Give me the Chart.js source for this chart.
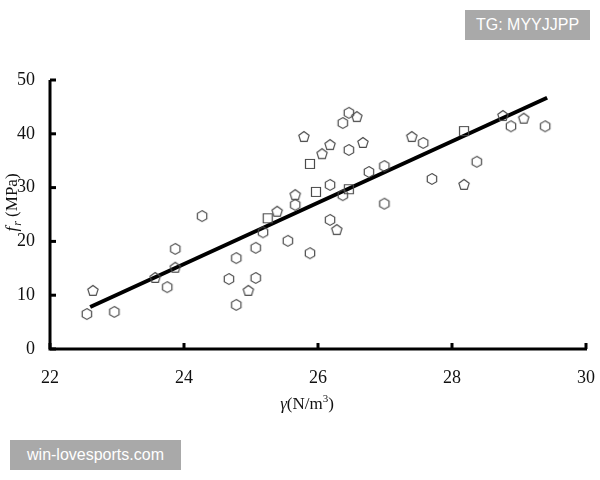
<!DOCTYPE html>
<html lang="en">
<head>
  <meta charset="UTF-8">
  <title>Strength vs unit weight</title>
  <script src="https://cdn.jsdelivr.net/npm/chart.js"></script>
  <style>
    body {
      margin: 0;
      background: #ffffff;
    }
    .wrap {
      position: relative;
      width: 600px;
      height: 480px;
    }
    .mark {
      position: absolute;
      background: #a9a9a9;
      color: #ffffff;
      font-family: 'Liberation Sans', sans-serif;
      font-size: 16px;
      display: flex;
      align-items: center;
      justify-content: center;
    }
  </style>
</head>
<body>

<div class="wrap">
  <canvas id="chart" width="600" height="480"></canvas>
  <div class="mark" style="left:465px; top:10px; width:125px; height:30px;">TG: MYYJJPP</div>
  <div class="mark" style="left:10px; top:440px; width:171px; height:30px;">win-lovesports.com</div>
</div>

<script>
  // gamma (N/m3) and f_r (MPa), grouped by marker shape
  const hexGamma = [22.55, 22.96, 23.75, 23.87, 24.27, 24.67, 24.78, 24.78, 25.07, 25.07, 25.18, 25.55, 25.66, 25.88,
                    26.18, 26.18, 26.37, 26.37, 26.46, 26.46, 26.76, 26.99, 26.99, 27.57, 27.70, 28.37, 28.88, 29.39];
  const hexStrength = [6.5, 6.9, 11.5, 18.6, 24.7, 13.0, 16.9, 8.2, 18.8, 13.2, 21.7, 20.1, 26.8, 17.8,
                       30.5, 24.0, 28.6, 42.0, 43.9, 37.0, 32.9, 34.0, 27.0, 38.3, 31.6, 34.8, 41.4, 41.4];
  const pentGamma = [22.64, 23.57, 23.87, 24.96, 25.39, 25.66, 25.79, 26.06, 26.18, 26.28, 26.58, 26.67, 27.40, 28.18, 28.76, 29.07];
  const pentStrength = [10.8, 13.2, 15.1, 10.8, 25.5, 28.6, 39.4, 36.2, 37.9, 22.1, 43.1, 38.3, 39.4, 30.5, 43.3, 42.8];
  const sqGamma = [25.25, 25.88, 25.97, 26.46, 28.18];
  const sqStrength = [24.3, 34.4, 29.2, 29.7, 40.5];

  // fitted line end points
  const fitGamma = [22.6, 29.42];
  const fitStrength = [7.8, 46.7];

  const xTicks = [22, 24, 26, 28, 30];
  const yTicks = [0, 10, 20, 30, 40, 50];

  const serif = "'Liberation Serif', 'Times New Roman', serif";

  function makeMarker(sides) {
    const c = document.createElement('canvas');
    c.width = 14;
    c.height = 14;
    const g = c.getContext('2d');
    g.strokeStyle = '#4a4a4a';
    g.lineWidth = 1.2;
    g.beginPath();
    if (sides === 4) {
      g.rect(2.5, 2.5, 9, 9);
    } else {
      for (let i = 0; i < sides; i++) {
        const a = -Math.PI / 2 + i * 2 * Math.PI / sides;
        const px = 7 + 5.4 * Math.cos(a);
        const py = 7 + 5.4 * Math.sin(a);
        if (i === 0) g.moveTo(px, py); else g.lineTo(px, py);
      }
      g.closePath();
    }
    g.stroke();
    return c;
  }

  function pairs(xs, ys) {
    return xs.map((x, i) => ({ x: x, y: ys[i] }));
  }

  // draws axis lines, inward ticks and the two axis titles
  const axesPlugin = {
    id: 'axes',
    afterDraw(chart) {
      const ctx = chart.ctx;
      const area = chart.chartArea;
      const xs = chart.scales.x;
      const ys = chart.scales.y;
      ctx.save();
      ctx.strokeStyle = '#000';
      ctx.lineWidth = 3;
      ctx.beginPath();
      ctx.moveTo(area.left, area.top);
      ctx.lineTo(area.left, area.bottom);
      ctx.lineTo(area.right + 1, area.bottom);
      ctx.stroke();
      xTicks.forEach(v => {
        const px = xs.getPixelForValue(v);
        ctx.beginPath();
        ctx.moveTo(px, area.bottom);
        ctx.lineTo(px, area.bottom - 6);
        ctx.stroke();
      });
      yTicks.forEach(v => {
        const py = ys.getPixelForValue(v);
        ctx.beginPath();
        ctx.moveTo(area.left, py);
        ctx.lineTo(area.left + 6, py);
        ctx.stroke();
      });

      ctx.fillStyle = '#111';
      ctx.textBaseline = 'middle';

      // x title: γ(N/m³)
      const big = '17px ' + serif;
      const itBig = 'italic 17px ' + serif;
      const small = '11px ' + serif;
      ctx.font = itBig;
      const wg = ctx.measureText('γ').width;
      ctx.font = big;
      const w1 = ctx.measureText('(N/m').width;
      ctx.font = small;
      const w3 = ctx.measureText('3').width;
      ctx.font = big;
      const w4 = ctx.measureText(')').width;
      let x = 307 - (wg + w1 + w3 + w4) / 2;
      const y = 405;
      ctx.textAlign = 'left';
      ctx.font = itBig; ctx.fillText('γ', x, y); x += wg;
      ctx.font = big; ctx.fillText('(N/m', x, y); x += w1;
      ctx.font = small; ctx.fillText('3', x, y - 6); x += w3;
      ctx.font = big; ctx.fillText(')', x, y);

      // y title: f_r (MPa), rotated
      ctx.translate(13, 203);
      ctx.rotate(-Math.PI / 2);
      ctx.font = itBig;
      const wf = ctx.measureText('f').width;
      ctx.font = 'italic 12px ' + serif;
      const wr = ctx.measureText('r').width;
      ctx.font = big;
      const wm = ctx.measureText(' (MPa)').width;
      let t = -(wf + wr + wm) / 2;
      ctx.font = itBig; ctx.fillText('f', t, 0); t += wf + 1;
      ctx.font = 'italic 12px ' + serif; ctx.fillText('r', t, 5); t += wr;
      ctx.font = big; ctx.fillText(' (MPa)', t, 0);
      ctx.restore();
    }
  };

  const ctx = document.getElementById('chart').getContext('2d');
  new Chart(ctx, {
    type: 'scatter',
    data: {
      datasets: [
        {
          type: 'line',
          data: pairs(fitGamma, fitStrength),
          borderColor: '#000',
          borderWidth: 4,
          pointRadius: 0,
          order: 2
        },
        { data: pairs(hexGamma, hexStrength), pointStyle: makeMarker(6), order: 1 },
        { data: pairs(pentGamma, pentStrength), pointStyle: makeMarker(5), order: 1 },
        { data: pairs(sqGamma, sqStrength), pointStyle: makeMarker(4), order: 1 }
      ]
    },
    options: {
      responsive: false,
      animation: false,
      layout: { padding: { top: 80, right: 14, left: 0, bottom: 0 } },
      plugins: {
        legend: { display: false },
        tooltip: { enabled: false }
      },
      scales: {
        x: {
          type: 'linear',
          min: 22,
          max: 30,
          grid: { display: false },
          border: { display: false },
          afterBuildTicks: s => { s.ticks = xTicks.map(v => ({ value: v })); },
          ticks: { color: '#111', font: { family: serif, size: 18 }, padding: 10, maxRotation: 0 },
          afterFit: s => { s.height = 131; s.paddingLeft = 0; s.paddingRight = 0; }
        },
        y: {
          min: 0,
          max: 50,
          grid: { display: false },
          border: { display: false },
          afterBuildTicks: s => { s.ticks = yTicks.map(v => ({ value: v })); },
          ticks: { color: '#111', font: { family: serif, size: 18 }, padding: 7 },
          afterFit: s => { s.width = 50; s.paddingTop = 0; s.paddingBottom = 0; }
        }
      }
    },
    plugins: [axesPlugin]
  });
</script>

</body>
</html>
